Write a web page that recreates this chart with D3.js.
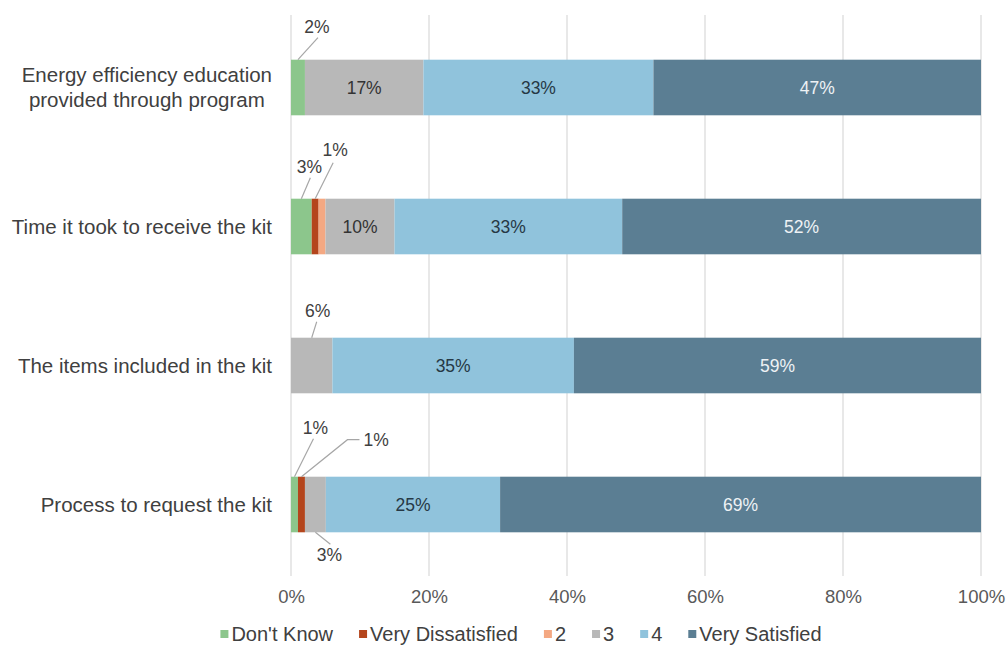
<!DOCTYPE html>
<html>
<head>
<meta charset="utf-8">
<script src="https://cdn.jsdelivr.net/npm/d3@7"></script>
<style>
  html, body { margin: 0; padding: 0; background: #ffffff; }
  svg { display: block; font-family: "Liberation Sans", Arial, sans-serif; }
</style>
</head>
<body>
<svg id="chart" width="1008" height="646"></svg>
<script>
// Satisfaction ratings, percent of respondents per item
const categories = [
  "Energy efficiency education provided through program",
  "Time it took to receive the kit",
  "The items included in the kit",
  "Process to request the kit"
];
const seriesNames = ["Don't Know", "Very Dissatisfied", "2", "3", "4", "Very Satisfied"];
const dontKnow         = [2, 3, 0, 1];
const veryDissatisfied = [0, 1, 0, 1];
const ratingTwo        = [0, 1, 0, 0];
const ratingThree      = [17, 10, 6, 3];
const ratingFour       = [33, 33, 35, 25];
const verySatisfied    = [47, 52, 59, 69];
const tickValues = [0, 0.2, 0.4, 0.6, 0.8, 1.0];
const tickLabels = ["0%", "20%", "40%", "60%", "80%", "100%"];

const seriesValues = [dontKnow, veryDissatisfied, ratingTwo, ratingThree, ratingFour, verySatisfied];
const colors = ["#8cc68c", "#b4451c", "#f4a882", "#b8b8b8", "#90c3dc", "#5b7e93"];
const labelColors = ["#404040", "#404040", "#404040", "#333333", "#263845", "#eef2f5"];

const rows = categories.map((c, i) => {
  const r = { category: c };
  seriesNames.forEach((s, j) => { r[s] = seriesValues[j][i]; });
  return r;
});

const svg = d3.select("#chart");
const font = "'Liberation Sans', Arial, sans-serif";

const x = d3.scaleLinear().domain([0, 1]).range([291, 981]);
const y = d3.scaleBand().domain(categories).range([18, 574]).paddingInner(0.6).paddingOuter(0.3);

// vertical gridlines
svg.append("g")
  .selectAll("line")
  .data(tickValues)
  .join("line")
  .attr("x1", d => x(d)).attr("x2", d => x(d))
  .attr("y1", 15).attr("y2", 576)
  .attr("stroke", "#d9d9d9").attr("stroke-width", 1.2);

// x axis tick labels
const xAxis = d3.axisBottom(x).tickValues(tickValues).tickFormat((d, i) => tickLabels[i]).tickSize(0).tickPadding(0);
const gx = svg.append("g").attr("transform", "translate(0,590)").call(xAxis);
gx.select(".domain").remove();
gx.selectAll("text")
  .attr("font-family", font).attr("font-size", "18.5px").attr("fill", "#595959")
  .attr("dy", "0.71em").attr("y", 0);

// stacked bars, normalised to 100%
const stack = d3.stack().keys(seriesNames).offset(d3.stackOffsetExpand);
const layers = stack(rows);

const gBars = svg.append("g");
layers.forEach((layer, si) => {
  gBars.append("g")
    .attr("fill", colors[si])
    .selectAll("rect")
    .data(layer)
    .join("rect")
    .attr("x", d => x(d[0]))
    .attr("y", d => y(d.data.category))
    .attr("width", d => Math.max(0, x(d[1]) - x(d[0])))
    .attr("height", y.bandwidth());
});

// category labels (wrapped when too long)
const gCat = svg.append("g");
categories.forEach(c => {
  const words = c.split(" ");
  const lines = [];
  let line = [];
  const probe = gCat.append("text").attr("font-family", font).attr("font-size", "20.5px");
  words.forEach(w => {
    const trial = line.concat([w]).join(" ");
    probe.text(trial);
    if (probe.node().getComputedTextLength() > 262 && line.length) {
      lines.push(line.join(" "));
      line = [w];
    } else {
      line.push(w);
    }
  });
  lines.push(line.join(" "));
  probe.remove();
  const cy = y(c) + y.bandwidth() / 2;
  const lh = 25;
  const t = gCat.append("text")
    .attr("font-family", font).attr("font-size", "20.5px").attr("fill", "#404040")
    .attr("text-anchor", "middle");
  const rightEdge = 272;
  // widest line sets the block width; lines are centred within the block
  const tmp = gCat.append("text").attr("font-family", font).attr("font-size", "20.5px");
  let maxW = 0;
  lines.forEach(l => { tmp.text(l); maxW = Math.max(maxW, tmp.node().getComputedTextLength()); });
  tmp.remove();
  const centerX = rightEdge - maxW / 2;
  lines.forEach((l, k) => {
    t.append("tspan")
      .attr("x", centerX)
      .attr("y", cy + (k - (lines.length - 1) / 2) * lh)
      .attr("dy", "0.35em")
      .text(l);
  });
});

// value labels
const gLab = svg.append("g").attr("font-family", font);
// callout placement for small segments: [row, series] -> leader path & label offset
const callouts = {
  "0-0": { edge: "top", path: [[0, 0], [20, -22]], label: [19, -33], anchor: "middle" },
  "1-0": { edge: "top", path: [[0, 0], [9, -21]], label: [8, -32], anchor: "middle" },
  "1-1": { edge: "top", path: [[0, 0], [18, -36]], label: [20, -49], anchor: "middle" },
  "2-3": { edge: "top", path: [[0, 0], [5, -16]], label: [6, -27], anchor: "middle" },
  "3-0": { edge: "top", path: [[0, 0], [19, -38]], label: [21, -49], anchor: "middle" },
  "3-1": { edge: "top", path: [[0, 0], [46, -37], [58, -37]], label: [62, -37], anchor: "start" },
  "3-3": { edge: "bottom", path: [[0, 0], [15, 12]], label: [14, 23], anchor: "middle" }
};

layers.forEach((layer, si) => {
  layer.forEach((d, ri) => {
    const v = seriesValues[si][ri];
    if (!v || seriesNames[si] === "2") return;
    const cx = (x(d[0]) + x(d[1])) / 2;
    const top = y(d.data.category);
    const bottom = top + y.bandwidth();
    const txt = v + "%";
    if (v >= 10) {
      gLab.append("text")
        .attr("x", cx).attr("y", (top + bottom) / 2).attr("dy", "0.35em")
        .attr("text-anchor", "middle").attr("font-size", "17.5px")
        .attr("fill", labelColors[si]).text(txt);
    } else {
      const c = callouts[ri + "-" + si];
      if (!c) return;
      const by = c.edge === "top" ? top : bottom;
      gLab.append("path")
        .attr("d", d3.line()(c.path.map(p => [cx + p[0], by + p[1]])))
        .attr("fill", "none").attr("stroke", "#a6a6a6").attr("stroke-width", 1.2);
      gLab.append("text")
        .attr("x", cx + c.label[0]).attr("y", by + c.label[1]).attr("dy", "0.35em")
        .attr("text-anchor", c.anchor).attr("font-size", "17.5px")
        .attr("fill", "#404040").text(txt);
    }
  });
});

// legend
const gLeg = svg.append("g").attr("font-family", font).attr("font-size", "20px");
const legendY = 634;
const items = [];
seriesNames.forEach((s, i) => {
  const g = gLeg.append("g");
  g.append("rect").attr("x", 0).attr("y", legendY - 4).attr("width", 8).attr("height", 8).attr("fill", colors[i]);
  const t = g.append("text").attr("x", 11).attr("y", legendY).attr("dy", "0.35em")
    .attr("fill", "#404040").text(s);
  const w = 11 + t.node().getComputedTextLength();
  items.push({ g, w });
});
const gap = 26;
const total = d3.sum(items, d => d.w) + gap * (items.length - 1);
let cursor = 521 - total / 2;
items.forEach(it => {
  it.g.attr("transform", `translate(${cursor},0)`);
  cursor += it.w + gap;
});
</script>
</body>
</html>
